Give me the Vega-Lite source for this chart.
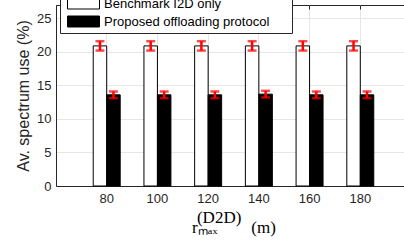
{
  "$schema": "https://vega.github.io/schema/vega-lite/v6.json",
  "autosize": "none",
  "width": 355,
  "height": 181,
  "padding": {"left": 56, "top": 5, "right": 0, "bottom": 55},
  "background": "white",
  "config": {
    "view": {"stroke": "#262626", "strokeWidth": 1},
    "axis": {
      "labelFont": "Liberation Sans",
      "labelFontSize": 13,
      "labelColor": "#262626",
      "domainColor": "#262626",
      "gridColor": "#e6e6e6",
      "ticks": false
    }
  },
  "data": {
    "values": [
      {"r": 80, "series": "Benchmark I2D only", "value": 20.9, "lo": 20.2, "hi": 21.6},
      {"r": 100, "series": "Benchmark I2D only", "value": 20.9, "lo": 20.2, "hi": 21.6},
      {"r": 120, "series": "Benchmark I2D only", "value": 20.9, "lo": 20.2, "hi": 21.6},
      {"r": 140, "series": "Benchmark I2D only", "value": 20.9, "lo": 20.2, "hi": 21.6},
      {"r": 160, "series": "Benchmark I2D only", "value": 20.9, "lo": 20.2, "hi": 21.6},
      {"r": 180, "series": "Benchmark I2D only", "value": 20.9, "lo": 20.2, "hi": 21.6},
      {"r": 80, "series": "Proposed offloading protocol", "value": 13.6, "lo": 13.1, "hi": 14.1},
      {"r": 100, "series": "Proposed offloading protocol", "value": 13.6, "lo": 13.1, "hi": 14.1},
      {"r": 120, "series": "Proposed offloading protocol", "value": 13.6, "lo": 13.1, "hi": 14.1},
      {"r": 140, "series": "Proposed offloading protocol", "value": 13.7, "lo": 13.2, "hi": 14.2},
      {"r": 160, "series": "Proposed offloading protocol", "value": 13.6, "lo": 13.1, "hi": 14.1},
      {"r": 180, "series": "Proposed offloading protocol", "value": 13.6, "lo": 13.1, "hi": 14.1}
    ]
  },
  "resolve": {"axis": {"x": "independent"}},
  "layer": [
    {
      "mark": {"type": "bar", "stroke": "black", "strokeWidth": 1},
      "encoding": {
        "x": {
          "field": "r", "type": "ordinal",
          "scale": {"paddingInner": 0, "paddingOuter": 0.5},
          "axis": {
            "labelAngle": 0, "grid": true, "bandPosition": 0.5, "labelPadding": 6,
            "title": ["(D2D)\u00a0\u00a0\u00a0\u00a0\u00a0\u00a0\u00a0\u200b", "r\u2098\u2090\u2093\u00a0\u00a0\u00a0\u00a0\u00a0\u00a0\u00a0\u00a0(m)"],
            "titleFont": "Liberation Serif", "titleFontSize": 17, "titleFontWeight": "normal",
            "titleColor": "black", "titleLineHeight": 10, "titlePadding": 4
          }
        },
        "xOffset": {
          "field": "series", "type": "nominal",
          "scale": {"paddingInner": 0, "paddingOuter": 0.88}
        },
        "y": {
          "field": "value", "type": "quantitative",
          "scale": {"domain": [0, 27], "nice": false},
          "axis": {
            "values": [0, 5, 10, 15, 20, 25], "grid": true,
            "title": "Av. spectrum use (%)",
            "titleFont": "Liberation Sans", "titleFontSize": 16, "titleFontWeight": "normal",
            "titleColor": "#262626", "titlePadding": 5, "labelPadding": 5
          }
        },
        "color": {
          "field": "series", "type": "nominal",
          "scale": {"domain": ["Benchmark I2D only", "Proposed offloading protocol"], "range": ["white", "black"]},
          "legend": {
            "orient": "none", "legendX": 4, "legendY": -12, "title": null,
            "symbolType": "M-3.2,-1.1H3.2V1.1H-3.2Z", "symbolSize": 100,
            "symbolStrokeColor": "black", "symbolStrokeWidth": 1, "symbolOpacity": 1,
            "symbolOffset": 13, "labelOffset": 14, "labelLimit": 400,
            "labelFont": "Liberation Sans", "labelFontSize": 13, "labelColor": "black",
            "labelExpr": "datum.label + '\u00a0\u00a0\u00a0\u00a0\u00a0\u200b'",
            "strokeColor": "#262626", "fillColor": "white", "padding": 4, "rowPadding": 3
          }
        }
      }
    },
    {
      "mark": {"type": "rule", "color": "#ff0000", "strokeWidth": 2.5},
      "encoding": {
        "x": {
          "field": "r", "type": "ordinal",
          "axis": {"orient": "top", "labels": false, "grid": false, "domain": false, "ticks": true, "tickSize": -4, "tickColor": "#262626", "title": null, "bandPosition": 0.5}
        },
        "xOffset": {"field": "series", "type": "nominal"},
        "y": {
          "field": "lo", "type": "quantitative",
          "axis": {
            "values": [0, 5, 10, 15, 20, 25], "grid": true,
            "title": "Av. spectrum use (%)",
            "titleFont": "Liberation Sans", "titleFontSize": 16, "titleFontWeight": "normal",
            "titleColor": "#262626", "titlePadding": 5, "labelPadding": 5
          }
        },
        "y2": {"field": "hi"}
      }
    },
    {
      "mark": {"type": "tick", "color": "#ff0000", "size": 9, "thickness": 2.5, "orient": "horizontal"},
      "encoding": {
        "x": {"field": "r", "type": "ordinal", "axis": null},
        "xOffset": {"field": "series", "type": "nominal"},
        "y": {
          "field": "lo", "type": "quantitative",
          "axis": {
            "values": [0, 5, 10, 15, 20, 25], "grid": true,
            "title": "Av. spectrum use (%)",
            "titleFont": "Liberation Sans", "titleFontSize": 16, "titleFontWeight": "normal",
            "titleColor": "#262626", "titlePadding": 5, "labelPadding": 5
          }
        }
      }
    },
    {
      "mark": {"type": "tick", "color": "#ff0000", "size": 9, "thickness": 2.5, "orient": "horizontal"},
      "encoding": {
        "x": {"field": "r", "type": "ordinal", "axis": null},
        "xOffset": {"field": "series", "type": "nominal"},
        "y": {
          "field": "hi", "type": "quantitative",
          "axis": {
            "values": [0, 5, 10, 15, 20, 25], "grid": true,
            "title": "Av. spectrum use (%)",
            "titleFont": "Liberation Sans", "titleFontSize": 16, "titleFontWeight": "normal",
            "titleColor": "#262626", "titlePadding": 5, "labelPadding": 5
          }
        }
      }
    }
  ]
}
